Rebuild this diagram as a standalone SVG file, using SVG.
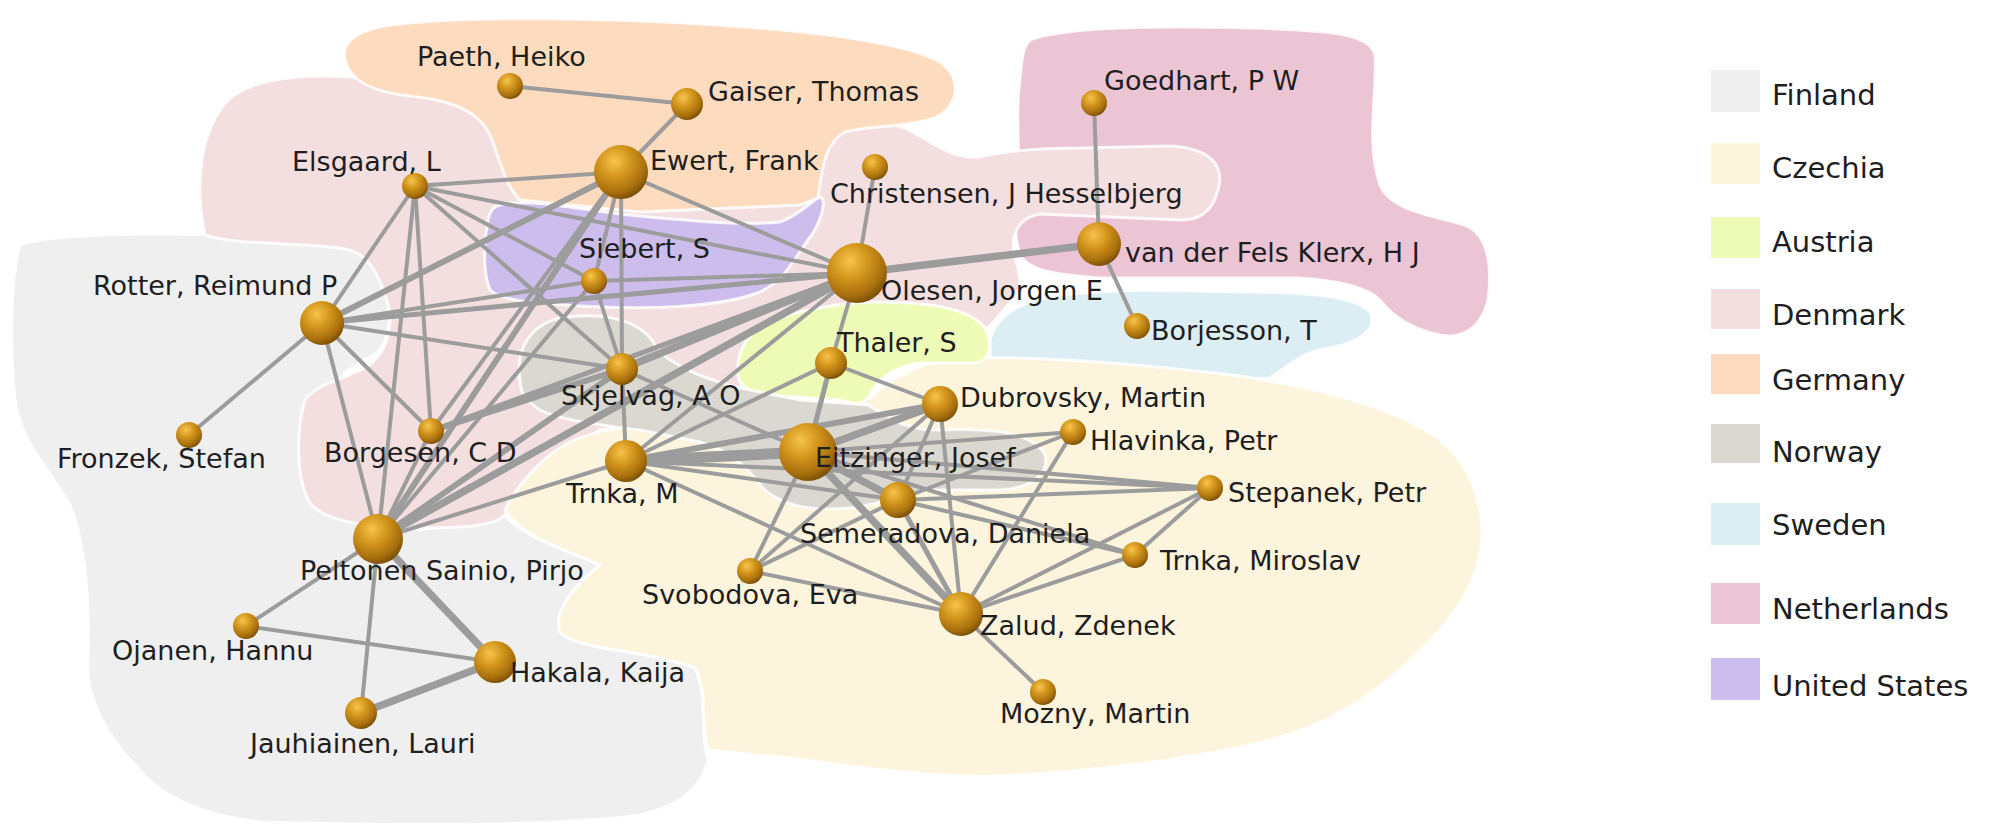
<svg xmlns="http://www.w3.org/2000/svg" width="2000" height="829" viewBox="0 0 2000 829">
<defs>
<radialGradient id="ball" cx="38%" cy="30%" r="72%">
<stop offset="0%" stop-color="#f8c44e"/>
<stop offset="40%" stop-color="#d4971d"/>
<stop offset="80%" stop-color="#a86f0d"/>
<stop offset="100%" stop-color="#7a5008"/>
</radialGradient>
<style>
.reg{stroke:#ffffff;stroke-width:3;stroke-opacity:0.85}
.fi{fill:#efefef}.cz{fill:#fcf4dc}.at{fill:#eefbb6}.dk{fill:#f4dfe0}.de{fill:#fddbbf}
.no{fill:#dad8d0}.se{fill:#dcedf4}.nl{fill:#ecc5d5}.us{fill:#cdbdec}
.e{stroke:#9c9c9c;stroke-linecap:round;fill:none;stroke-width:4}
.w5{stroke-width:5}.w6{stroke-width:6}.w7{stroke-width:7.5}.w11{stroke-width:11}
.nd{fill:url(#ball)}
text{font-family:"DejaVu Sans",Verdana,"Liberation Sans",sans-serif;fill:#1e1e1e}
.lb{font-size:27px}
.lg{font-size:29px}
</style>
</defs>
<rect width="2000" height="829" fill="#ffffff"/>
<g id="regions">
<path id="reg-finland" class="reg fi" d="M20,245 C60,232 180,232 290,238 C345,242 372,250 382,270 C395,300 392,335 378,352 L345,372 L330,420 L340,500 L420,530 L505,515 C520,535 560,548 600,565 C575,585 552,612 560,632 C575,650 650,650 695,668 C708,695 700,740 708,760 C700,790 680,805 640,815 C560,826 400,826 260,822 C200,815 160,795 140,770 C110,740 85,700 88,660 C90,600 85,540 70,505 C50,470 20,440 15,400 C10,350 10,280 20,245 Z"/>
<path id="reg-netherlands" class="reg nl" d="M1030,40 C1060,28 1150,25 1250,28 C1320,30 1370,32 1375,55 C1378,90 1365,140 1380,185 C1390,210 1430,215 1465,225 C1490,235 1492,270 1488,300 C1482,325 1465,340 1440,335 C1415,330 1395,320 1380,300 C1365,285 1330,280 1300,278 L1100,278 C1060,275 1030,272 1020,255 C1012,230 1015,200 1018,175 C1020,140 1015,110 1020,80 C1022,60 1022,48 1030,40 Z"/>
<path id="reg-denmark" class="reg dk" d="M205,235 C195,190 198,130 230,98 C260,75 320,72 380,80 L520,120 L820,125 C850,122 880,120 905,128 C930,140 950,160 980,157 C1010,150 1040,148 1080,148 L1170,146 C1210,148 1225,165 1218,190 C1212,212 1200,220 1180,220 L1040,214 C1015,218 1010,240 1015,258 C1020,275 1025,290 1008,305 C995,320 985,335 965,340 L880,350 L760,370 L700,420 L600,430 L540,470 L505,515 C495,525 470,528 420,528 C360,528 320,520 308,500 C296,475 296,430 305,400 C315,385 345,378 365,368 C390,352 395,320 385,295 C375,265 365,252 340,248 C290,242 235,245 205,235 Z"/>
<path id="reg-germany" class="reg de" d="M345,60 C340,40 360,28 400,24 C480,16 600,18 700,24 C800,30 900,40 940,62 C962,78 960,105 935,118 C905,128 870,125 845,132 C825,142 822,170 818,198 L800,205 L640,212 L520,200 C505,185 500,160 490,135 C478,110 450,100 410,96 C370,92 350,80 345,60 Z"/>
<path id="reg-sweden" class="reg se" d="M990,345 C990,325 1010,305 1045,298 C1100,288 1180,290 1240,292 C1300,292 1355,295 1370,312 C1378,330 1360,342 1330,348 C1300,352 1290,365 1270,378 L1100,385 L1000,378 C990,368 990,355 990,345 Z"/>
<path id="reg-czechia" class="reg cz" d="M505,510 C520,480 545,455 570,442 C600,428 650,420 700,425 L760,420 L870,398 C895,375 920,362 960,358 C1040,356 1140,364 1240,376 C1330,390 1400,410 1440,440 C1470,465 1482,500 1482,535 C1480,580 1455,620 1410,660 C1370,700 1320,730 1250,745 C1170,762 1080,772 1000,776 C930,778 850,766 790,758 C750,754 725,752 708,750 C700,720 708,690 695,668 C650,650 575,650 560,632 C552,612 575,585 600,565 C560,548 520,535 505,510 Z"/>
<path id="reg-austria" class="reg at" d="M738,375 C735,350 750,330 775,320 C800,310 840,302 880,302 C930,302 970,308 985,328 C993,345 990,362 975,363 L920,363 C895,367 878,378 870,395 C865,405 855,405 840,400 L780,396 C755,394 740,390 738,375 Z"/>
<path id="reg-norway" class="reg no" d="M520,380 C515,350 530,325 560,318 C600,312 640,318 655,345 C665,362 700,378 740,388 L800,400 L868,405 C890,418 905,430 935,430 C985,428 1032,430 1045,455 C1050,475 1030,488 1000,490 L930,490 C900,495 880,505 850,508 C810,512 780,505 762,487 C748,468 730,450 700,442 L640,430 C600,425 560,420 540,410 C525,400 520,392 520,380 Z"/>
<path id="reg-us" class="reg us" d="M500,205 C530,198 570,208 620,214 C680,220 740,226 780,222 C800,215 812,200 820,197 C828,200 820,225 808,240 C795,258 785,280 760,292 C720,308 640,310 580,306 C530,303 500,300 490,290 C482,270 484,240 488,220 C490,210 494,206 500,205 Z"/>
</g>
<g id="connectors">
<line class="e" x1="510" y1="86" x2="687" y2="104"/>
<line class="e" x1="687" y1="104" x2="621" y2="172"/>
<line class="e" x1="1094" y1="103" x2="1099" y2="244"/>
<line class="e w7" x1="1099" y1="244" x2="857" y2="273"/>
<line class="e" x1="1099" y1="244" x2="1137" y2="326"/>
<line class="e" x1="875" y1="167" x2="857" y2="273"/>
<line class="e" x1="415" y1="186" x2="621" y2="172"/>
<line class="e" x1="415" y1="186" x2="857" y2="273"/>
<line class="e" x1="415" y1="186" x2="594" y2="281"/>
<line class="e" x1="415" y1="186" x2="622" y2="369"/>
<line class="e" x1="415" y1="186" x2="322" y2="323"/>
<line class="e" x1="415" y1="186" x2="431" y2="431"/>
<line class="e" x1="415" y1="186" x2="378" y2="539"/>
<line class="e" x1="621" y1="172" x2="857" y2="273"/>
<line class="e" x1="621" y1="172" x2="594" y2="281"/>
<line class="e" x1="621" y1="172" x2="622" y2="369"/>
<line class="e w6" x1="621" y1="172" x2="322" y2="323"/>
<line class="e" x1="621" y1="172" x2="431" y2="431"/>
<line class="e w6" x1="621" y1="172" x2="378" y2="539"/>
<line class="e" x1="322" y1="323" x2="594" y2="281"/>
<line class="e w5" x1="322" y1="323" x2="857" y2="273"/>
<line class="e" x1="322" y1="323" x2="622" y2="369"/>
<line class="e" x1="322" y1="323" x2="431" y2="431"/>
<line class="e" x1="322" y1="323" x2="378" y2="539"/>
<line class="e" x1="322" y1="323" x2="189" y2="435"/>
<line class="e" x1="594" y1="281" x2="857" y2="273"/>
<line class="e" x1="594" y1="281" x2="622" y2="369"/>
<line class="e" x1="594" y1="281" x2="378" y2="539"/>
<line class="e w7" x1="857" y1="273" x2="622" y2="369"/>
<line class="e w5" x1="857" y1="273" x2="431" y2="431"/>
<line class="e w7" x1="857" y1="273" x2="378" y2="539"/>
<line class="e" x1="857" y1="273" x2="626" y2="461"/>
<line class="e" x1="857" y1="273" x2="831" y2="363"/>
<line class="e" x1="622" y1="369" x2="626" y2="461"/>
<line class="e w6" x1="622" y1="369" x2="378" y2="539"/>
<line class="e w6" x1="622" y1="369" x2="431" y2="431"/>
<line class="e" x1="622" y1="369" x2="808" y2="452"/>
<line class="e" x1="831" y1="363" x2="626" y2="461"/>
<line class="e w5" x1="831" y1="363" x2="808" y2="452"/>
<line class="e" x1="831" y1="363" x2="940" y2="404"/>
<line class="e w11" x1="626" y1="461" x2="808" y2="452"/>
<line class="e w6" x1="626" y1="461" x2="940" y2="404"/>
<line class="e" x1="626" y1="461" x2="378" y2="539"/>
<line class="e" x1="626" y1="461" x2="898" y2="500"/>
<line class="e" x1="626" y1="461" x2="961" y2="614"/>
<line class="e" x1="626" y1="461" x2="1210" y2="488"/>
<line class="e w7" x1="808" y1="452" x2="940" y2="404"/>
<line class="e" x1="808" y1="452" x2="1073" y2="432"/>
<line class="e w7" x1="808" y1="452" x2="898" y2="500"/>
<line class="e w7" x1="808" y1="452" x2="961" y2="614"/>
<line class="e" x1="808" y1="452" x2="1210" y2="488"/>
<line class="e" x1="808" y1="452" x2="1135" y2="555"/>
<line class="e" x1="808" y1="452" x2="750" y2="571"/>
<line class="e" x1="940" y1="404" x2="898" y2="500"/>
<line class="e" x1="940" y1="404" x2="961" y2="614"/>
<line class="e" x1="940" y1="404" x2="750" y2="571"/>
<line class="e" x1="1073" y1="432" x2="961" y2="614"/>
<line class="e" x1="1073" y1="432" x2="898" y2="500"/>
<line class="e" x1="898" y1="500" x2="1210" y2="488"/>
<line class="e w5" x1="898" y1="500" x2="961" y2="614"/>
<line class="e" x1="898" y1="500" x2="750" y2="571"/>
<line class="e" x1="898" y1="500" x2="1135" y2="555"/>
<line class="e" x1="1210" y1="488" x2="961" y2="614"/>
<line class="e" x1="1210" y1="488" x2="1135" y2="555"/>
<line class="e" x1="1135" y1="555" x2="961" y2="614"/>
<line class="e" x1="750" y1="571" x2="961" y2="614"/>
<line class="e" x1="961" y1="614" x2="1043" y2="692"/>
<line class="e" x1="378" y1="539" x2="246" y2="626"/>
<line class="e w7" x1="378" y1="539" x2="495" y2="662"/>
<line class="e" x1="378" y1="539" x2="361" y2="713"/>
<line class="e" x1="246" y1="626" x2="495" y2="662"/>
<line class="e w7" x1="495" y1="662" x2="361" y2="713"/>
<line class="e" x1="378" y1="539" x2="431" y2="431"/>
</g>
<g id="nodes">
<g id="n-paeth"><circle class="nd" cx="510" cy="86" r="13"/><text class="lb" x="417" y="66">Paeth, Heiko</text></g>
<g id="n-gaiser"><circle class="nd" cx="687" cy="104" r="16"/><text class="lb" x="708" y="101">Gaiser, Thomas</text></g>
<g id="n-ewert"><circle class="nd" cx="621" cy="172" r="27"/><text class="lb" x="650" y="170">Ewert, Frank</text></g>
<g id="n-elsgaard"><circle class="nd" cx="415" cy="186" r="13"/><text class="lb" x="292" y="171">Elsgaard, L</text></g>
<g id="n-christensen"><circle class="nd" cx="875" cy="167" r="13"/><text class="lb" x="830" y="203">Christensen, J Hesselbjerg</text></g>
<g id="n-goedhart"><circle class="nd" cx="1094" cy="103" r="13"/><text class="lb" x="1104" y="90">Goedhart, P W</text></g>
<g id="n-vdfk"><circle class="nd" cx="1099" cy="244" r="22"/><text class="lb" x="1125" y="262">van der Fels Klerx, H J</text></g>
<g id="n-siebert"><circle class="nd" cx="594" cy="281" r="13"/><text class="lb" x="579" y="258">Siebert, S</text></g>
<g id="n-olesen"><circle class="nd" cx="857" cy="273" r="30"/><text class="lb" x="881" y="300">Olesen, Jorgen E</text></g>
<g id="n-rotter"><circle class="nd" cx="322" cy="323" r="22"/><text class="lb" x="93" y="295">Rotter, Reimund P</text></g>
<g id="n-borjesson"><circle class="nd" cx="1137" cy="326" r="13"/><text class="lb" x="1151" y="340">Borjesson, T</text></g>
<g id="n-thaler"><circle class="nd" cx="831" cy="363" r="16"/><text class="lb" x="837" y="352">Thaler, S</text></g>
<g id="n-skjelvag"><circle class="nd" cx="622" cy="369" r="16"/><text class="lb" x="561" y="405">Skjelvag, A O</text></g>
<g id="n-dubrovsky"><circle class="nd" cx="940" cy="404" r="18"/><text class="lb" x="960" y="407">Dubrovsky, Martin</text></g>
<g id="n-fronzek"><circle class="nd" cx="189" cy="435" r="13"/><text class="lb" x="57" y="468">Fronzek, Stefan</text></g>
<g id="n-borgesen"><circle class="nd" cx="431" cy="431" r="13"/><text class="lb" x="324" y="462">Borgesen, C D</text></g>
<g id="n-hlavinka"><circle class="nd" cx="1073" cy="432" r="13"/><text class="lb" x="1090" y="450">Hlavinka, Petr</text></g>
<g id="n-trnkam"><circle class="nd" cx="626" cy="461" r="21"/><text class="lb" x="566" y="503">Trnka, M</text></g>
<g id="n-eitzinger"><circle class="nd" cx="808" cy="452" r="29"/><text class="lb" x="815" y="467">Eitzinger, Josef</text></g>
<g id="n-semeradova"><circle class="nd" cx="898" cy="500" r="18"/><text class="lb" x="800" y="543">Semeradova, Daniela</text></g>
<g id="n-stepanek"><circle class="nd" cx="1210" cy="488" r="13"/><text class="lb" x="1228" y="502">Stepanek, Petr</text></g>
<g id="n-trnkamiroslav"><circle class="nd" cx="1135" cy="555" r="13"/><text class="lb" x="1160" y="570">Trnka, Miroslav</text></g>
<g id="n-svobodova"><circle class="nd" cx="750" cy="571" r="13"/><text class="lb" x="642" y="604">Svobodova, Eva</text></g>
<g id="n-peltonen"><circle class="nd" cx="378" cy="539" r="25"/><text class="lb" x="300" y="580">Peltonen Sainio, Pirjo</text></g>
<g id="n-zalud"><circle class="nd" cx="961" cy="614" r="22"/><text class="lb" x="980" y="635">Zalud, Zdenek</text></g>
<g id="n-ojanen"><circle class="nd" cx="246" cy="626" r="13"/><text class="lb" x="112" y="660">Ojanen, Hannu</text></g>
<g id="n-hakala"><circle class="nd" cx="495" cy="662" r="21"/><text class="lb" x="510" y="682">Hakala, Kaija</text></g>
<g id="n-mozny"><circle class="nd" cx="1043" cy="692" r="13"/><text class="lb" x="1000" y="723">Mozny, Martin</text></g>
<g id="n-jauhiainen"><circle class="nd" cx="361" cy="713" r="16"/><text class="lb" x="250" y="753">Jauhiainen, Lauri</text></g>
</g>
<g id="legend">
<rect x="1711" y="70" width="49" height="42" class="fi"/><text class="lg" x="1772" y="105">Finland</text>
<rect x="1711" y="143" width="49" height="41" class="cz"/><text class="lg" x="1772" y="178">Czechia</text>
<rect x="1711" y="217" width="49" height="41" class="at"/><text class="lg" x="1772" y="252">Austria</text>
<rect x="1711" y="289" width="49" height="40" class="dk"/><text class="lg" x="1772" y="325">Denmark</text>
<rect x="1711" y="354" width="49" height="40" class="de"/><text class="lg" x="1772" y="390">Germany</text>
<rect x="1711" y="424" width="49" height="39" class="no"/><text class="lg" x="1772" y="462">Norway</text>
<rect x="1711" y="503" width="49" height="42" class="se"/><text class="lg" x="1772" y="535">Sweden</text>
<rect x="1711" y="583" width="49" height="41" class="nl"/><text class="lg" x="1772" y="619">Netherlands</text>
<rect x="1711" y="658" width="49" height="42" class="us"/><text class="lg" x="1772" y="696">United States</text>
</g>
</svg>
